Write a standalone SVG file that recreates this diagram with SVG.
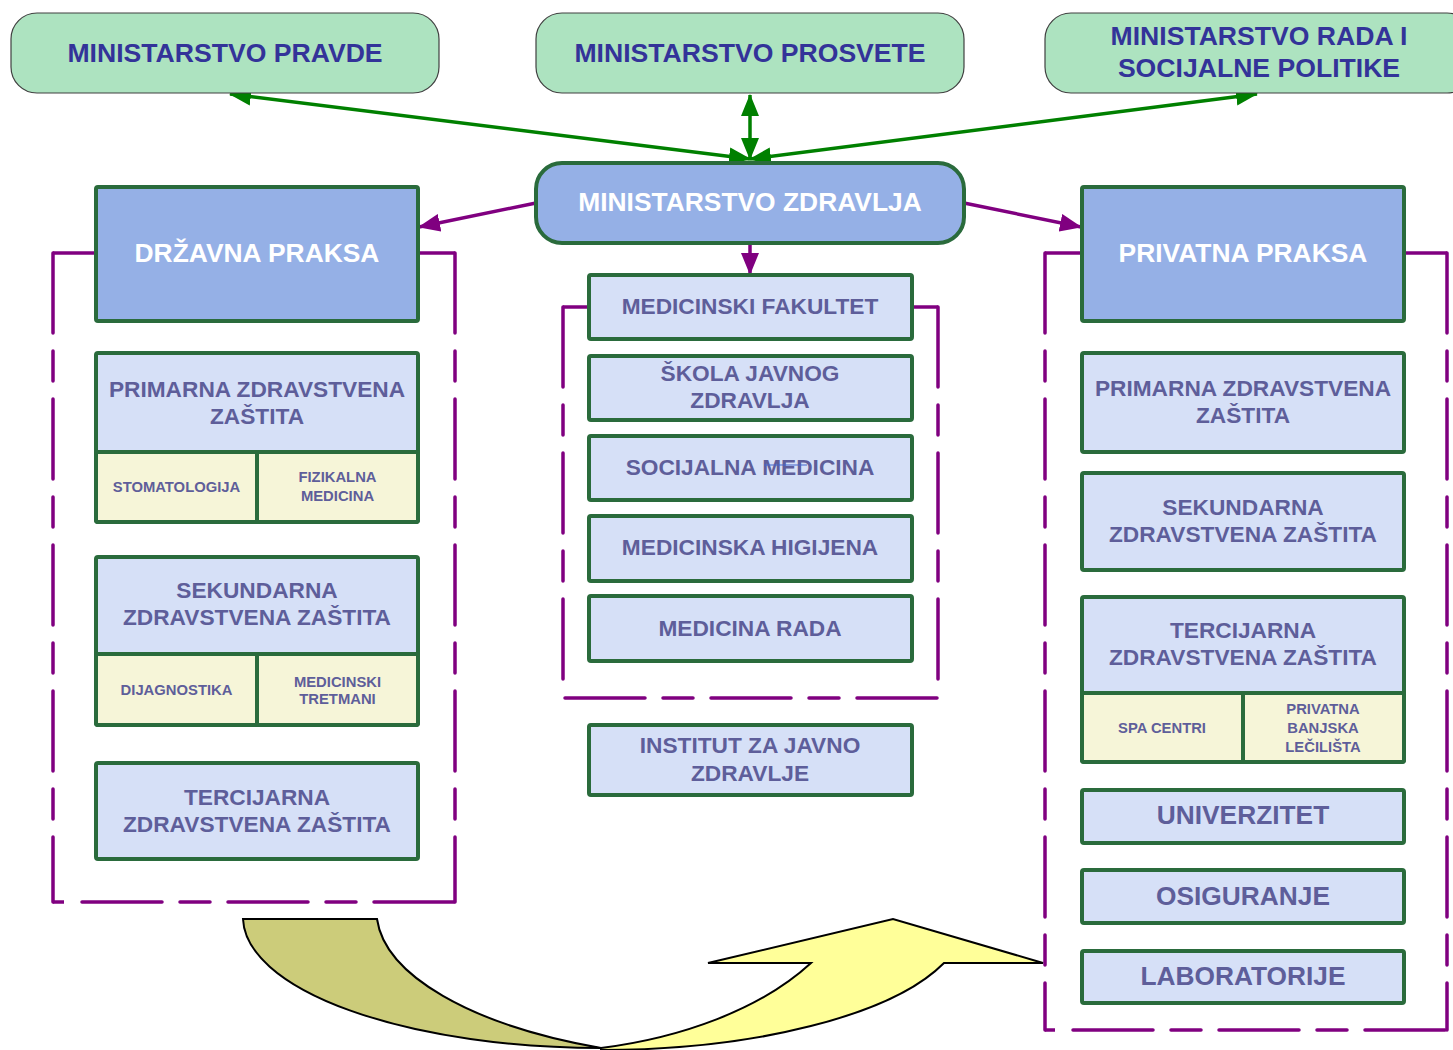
<svg xmlns="http://www.w3.org/2000/svg" width="1453" height="1050" viewBox="0 0 1453 1050">
  <style>
    text { font-family: "Liberation Sans", Arial, sans-serif; font-weight: bold; text-anchor: middle; }
    .min { fill: #ade3c0; stroke: #404040; stroke-width: 1.2; }
    .minTxt { fill: #333399; font-size: 26.6px; }
    .head { fill: #95b0e6; stroke: #2a6b3c; stroke-width: 4; }
    .headTxt { fill: #ffffff; font-size: 26.4px; }
    .box { fill: #d6e0f7; stroke: #2a6b3c; stroke-width: 4; }
    .sub { fill: #f6f5d8; stroke: #2a6b3c; stroke-width: 4; }
    .div { stroke: #2a6b3c; stroke-width: 4; fill: none; }
    .t { fill: #5e5e9a; font-size: 22.7px; }
    .tb { fill: #5e5e9a; font-size: 26.3px; }
    .ts { fill: #5e5e9a; font-size: 14.8px; }
    .green { stroke: #008000; stroke-width: 3.5; fill: none; }
    .purple { stroke: #800080; stroke-width: 3.5; fill: none; }
    .dash { stroke: #800080; stroke-width: 3.5; fill: none; stroke-dasharray: 80 18 30 18; stroke-linecap: round; }
    .solid { stroke: #800080; stroke-width: 3.5; fill: none; }
  </style>
  <defs>
    <marker id="ga" viewBox="0 0 22 18" refX="21" refY="9" markerWidth="22" markerHeight="18" markerUnits="userSpaceOnUse" orient="auto-start-reverse">
      <path d="M0,0 L22,9 L0,18 Z" fill="#008000"/>
    </marker>
    <marker id="pa" viewBox="0 0 22 18" refX="21" refY="9" markerWidth="22" markerHeight="18" markerUnits="userSpaceOnUse" orient="auto">
      <path d="M0,0 L22,9 L0,18 Z" fill="#800080"/>
    </marker>
  </defs>

  <!-- dashed frames around the practice columns -->
  <g id="frames">
    <!-- state practice frame -->
    <path class="solid" d="M96,253 H53"/>
    <path class="solid" d="M418,253 H455"/>
    <path class="dash" d="M53,253 V902"/>
    <path class="dash" d="M455,253 V902"/>
    <path class="solid" d="M53,902 H64"/>
    <path class="dash" d="M82,902 H455"/>
    <!-- education frame -->
    <path class="solid" d="M589,307 H563"/>
    <path class="solid" d="M912,307 H938"/>
    <path class="dash" d="M563,307 V679"/>
    <path class="dash" d="M938,307 V679"/>
    <path class="dash" d="M565,698 H938"/>
    <!-- private practice frame -->
    <path class="solid" d="M1082,253 H1045"/>
    <path class="solid" d="M1404,253 H1447"/>
    <path class="dash" d="M1045,253 V1030"/>
    <path class="dash" d="M1447,253 V1030"/>
    <path class="solid" d="M1045,1030 H1055"/>
    <path class="dash" d="M1073,1030 H1447"/>
  </g>

  <!-- connectors -->
  <g id="connectors">
    <line class="green" x1="750" y1="159" x2="230" y2="94" marker-start="url(#ga)" marker-end="url(#ga)"/>
    <line class="green" x1="750" y1="159" x2="750" y2="95" marker-start="url(#ga)" marker-end="url(#ga)"/>
    <line class="green" x1="750" y1="159" x2="1257" y2="94" marker-start="url(#ga)" marker-end="url(#ga)"/>
    <line class="purple" x1="536" y1="203" x2="419" y2="227" marker-end="url(#pa)"/>
    <line class="purple" x1="964" y1="203" x2="1081" y2="227" marker-end="url(#pa)"/>
    <line class="purple" x1="750" y1="243" x2="750" y2="274" marker-end="url(#pa)"/>
  </g>

  <!-- ministries -->
  <g id="min-pravde">
    <rect class="min" x="11" y="13" width="428" height="80" rx="26"/>
    <text class="minTxt" x="225" y="62">MINISTARSTVO PRAVDE</text>
  </g>
  <g id="min-prosvete">
    <rect class="min" x="536" y="13" width="428" height="80" rx="26"/>
    <text class="minTxt" x="750" y="62">MINISTARSTVO PROSVETE</text>
  </g>
  <g id="min-rada">
    <rect class="min" x="1045" y="13" width="428" height="80" rx="26"/>
    <text class="minTxt" x="1259" y="45">MINISTARSTVO RADA I</text>
    <text class="minTxt" x="1259" y="77">SOCIJALNE POLITIKE</text>
  </g>
  <g id="min-zdravlja">
    <rect class="head" x="536" y="163" width="428" height="80" rx="26"/>
    <text class="headTxt" x="750" y="211">MINISTARSTVO ZDRAVLJA</text>
  </g>

  <!-- state practice column -->
  <g id="drzavna">
    <rect class="head" x="96" y="187" width="322" height="134" rx="2"/>
    <text class="headTxt" x="257" y="262">DRŽAVNA PRAKSA</text>
  </g>
  <g id="d-primarna">
    <rect class="box" x="96" y="353" width="322" height="169" rx="2"/>
    <rect class="sub" x="96" y="452" width="322" height="70" rx="2"/>
    <line class="div" x1="257" y1="452" x2="257" y2="522"/>
    <text class="t" x="257" y="397">PRIMARNA ZDRAVSTVENA</text>
    <text class="t" x="257" y="424">ZAŠTITA</text>
    <text class="ts" x="176.5" y="492">STOMATOLOGIJA</text>
    <text class="ts" x="337.5" y="482">FIZIKALNA</text>
    <text class="ts" x="337.5" y="501">MEDICINA</text>
  </g>
  <g id="d-sekundarna">
    <rect class="box" x="96" y="557" width="322" height="168" rx="2"/>
    <rect class="sub" x="96" y="654" width="322" height="71" rx="2"/>
    <line class="div" x1="257" y1="654" x2="257" y2="725"/>
    <text class="t" x="257" y="598">SEKUNDARNA</text>
    <text class="t" x="257" y="625">ZDRAVSTVENA ZAŠTITA</text>
    <text class="ts" x="176.5" y="695">DIJAGNOSTIKA</text>
    <text class="ts" x="337.5" y="687">MEDICINSKI</text>
    <text class="ts" x="337.5" y="704">TRETMANI</text>
  </g>
  <g id="d-tercijarna">
    <rect class="box" x="96" y="763" width="322" height="96" rx="2"/>
    <text class="t" x="257" y="805">TERCIJARNA</text>
    <text class="t" x="257" y="832">ZDRAVSTVENA ZAŠTITA</text>
  </g>

  <!-- education column -->
  <g id="med-fakultet">
    <rect class="box" x="589" y="275" width="323" height="64" rx="2"/>
    <text class="t" x="750" y="314">MEDICINSKI FAKULTET</text>
  </g>
  <g id="skola">
    <rect class="box" x="589" y="356" width="323" height="64" rx="2"/>
    <text class="t" x="750" y="381">ŠKOLA JAVNOG</text>
    <text class="t" x="750" y="408">ZDRAVLJA</text>
  </g>
  <g id="socijalna">
    <rect class="box" x="589" y="436" width="323" height="64" rx="2"/>
    <text class="t" x="750" y="475">SOCIJALNA MEDICINA</text>
    <line x1="764" y1="465" x2="807" y2="465" stroke="#4466cc" stroke-width="1.2"/>
  </g>
  <g id="higijena">
    <rect class="box" x="589" y="516" width="323" height="65" rx="2"/>
    <text class="t" x="750" y="555">MEDICINSKA HIGIJENA</text>
  </g>
  <g id="med-rada">
    <rect class="box" x="589" y="596" width="323" height="65" rx="2"/>
    <text class="t" x="750" y="636">MEDICINA RADA</text>
  </g>
  <g id="institut">
    <rect class="box" x="589" y="725" width="323" height="70" rx="2"/>
    <text class="t" x="750" y="753">INSTITUT ZA JAVNO</text>
    <text class="t" x="750" y="781">ZDRAVLJE</text>
  </g>

  <!-- private practice column -->
  <g id="privatna">
    <rect class="head" x="1082" y="187" width="322" height="134" rx="2"/>
    <text class="headTxt" x="1243" y="262">PRIVATNA PRAKSA</text>
  </g>
  <g id="p-primarna">
    <rect class="box" x="1082" y="353" width="322" height="99" rx="2"/>
    <text class="t" x="1243" y="396">PRIMARNA ZDRAVSTVENA</text>
    <text class="t" x="1243" y="423">ZAŠTITA</text>
  </g>
  <g id="p-sekundarna">
    <rect class="box" x="1082" y="473" width="322" height="97" rx="2"/>
    <text class="t" x="1243" y="515">SEKUNDARNA</text>
    <text class="t" x="1243" y="542">ZDRAVSTVENA ZAŠTITA</text>
  </g>
  <g id="p-tercijarna">
    <rect class="box" x="1082" y="597" width="322" height="165" rx="2"/>
    <rect class="sub" x="1082" y="693" width="322" height="69" rx="2"/>
    <line class="div" x1="1243" y1="693" x2="1243" y2="762"/>
    <text class="t" x="1243" y="638">TERCIJARNA</text>
    <text class="t" x="1243" y="665">ZDRAVSTVENA ZAŠTITA</text>
    <text class="ts" x="1162" y="733">SPA CENTRI</text>
    <text class="ts" x="1323" y="714">PRIVATNA</text>
    <text class="ts" x="1323" y="733">BANJSKA</text>
    <text class="ts" x="1323" y="752">LEČILIŠTA</text>
  </g>
  <g id="univerzitet">
    <rect class="box" x="1082" y="790" width="322" height="53" rx="2"/>
    <text class="tb" x="1243" y="824">UNIVERZITET</text>
  </g>
  <g id="osiguranje">
    <rect class="box" x="1082" y="870" width="322" height="53" rx="2"/>
    <text class="tb" x="1243" y="905">OSIGURANJE</text>
  </g>
  <g id="laboratorije">
    <rect class="box" x="1082" y="951" width="322" height="52" rx="2"/>
    <text class="tb" x="1243" y="985">LABORATORIJE</text>
  </g>

  <!-- curved transfer arrow from state to private practice -->
  <g id="transfer-arrow" stroke="#000000" stroke-width="2" stroke-linejoin="miter">
    <path fill="#cccc7a" d="M243,919 H377 C385,975 470,1025 601,1048 A358,131 0 0 1 243,919 Z"/>
    <path fill="#ffff99" d="M601,1050 A364,131 0 0 0 944,963 H1043 L893,919 L708,963 H811 C760,1010 680,1038 601,1048 Z"/>
  </g>
</svg>
